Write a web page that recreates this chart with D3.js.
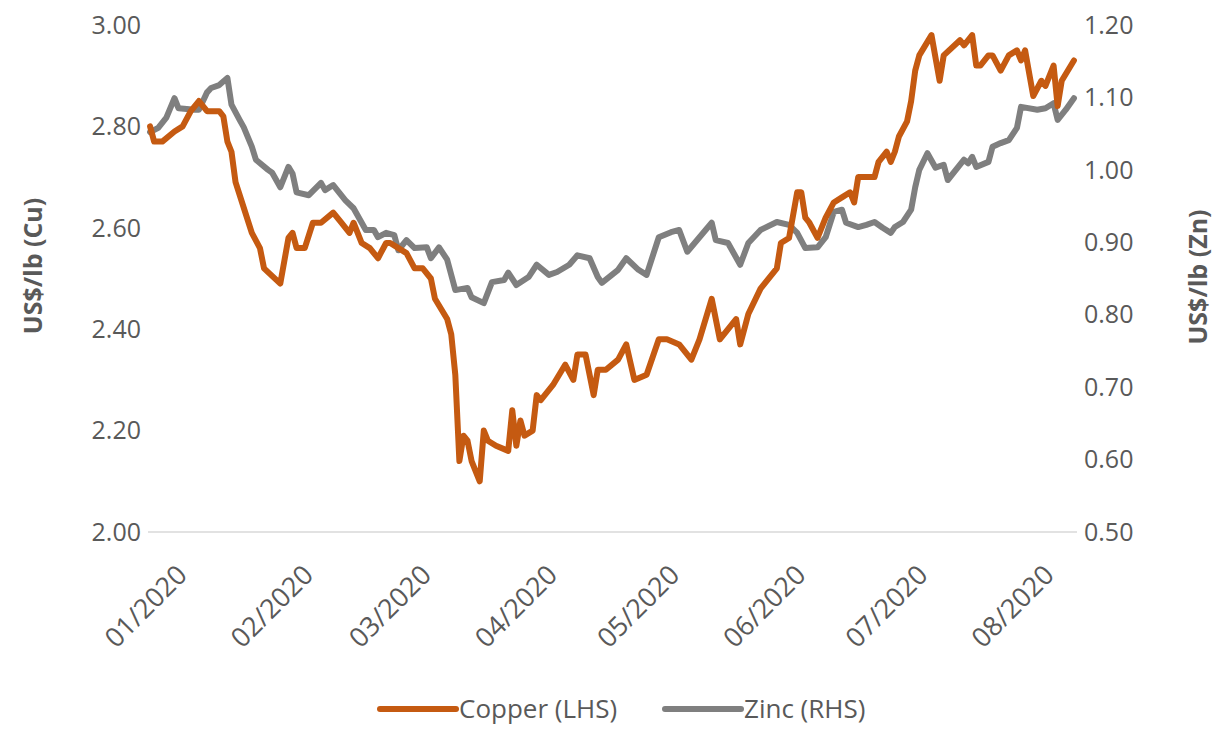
<!DOCTYPE html>
<html>
<head>
    <meta charset="utf-8" />
    <title>Copper and Zinc 2020</title>
    <style>
        body { margin: 0; background: #fff; }
        svg text { font-family: "Open Sans", "Noto Sans", sans-serif; fill: #595959; }
    </style>
    <script src="https://d3js.org/d3.v7.min.js"></script>
</head>
<body>
<svg id="chart"></svg>
<script>

// copper, US$/lb (left axis)
let copperDates = ["2020-01-02","2020-01-03","2020-01-05","2020-01-08","2020-01-10","2020-01-12","2020-01-14","2020-01-16","2020-01-19","2020-01-20",
    "2020-01-21","2020-01-22","2020-01-23","2020-01-25","2020-01-27","2020-01-29","2020-01-30","2020-02-03","2020-02-05","2020-02-06",
    "2020-02-07","2020-02-09","2020-02-11","2020-02-13","2020-02-16","2020-02-18","2020-02-20","2020-02-21","2020-02-23","2020-02-25",
    "2020-02-27","2020-02-29","2020-03-01","2020-03-05","2020-03-07","2020-03-09","2020-03-11","2020-03-12","2020-03-15","2020-03-16",
    "2020-03-17","2020-03-18","2020-03-19","2020-03-20","2020-03-21","2020-03-23","2020-03-24","2020-03-25","2020-03-27","2020-03-30",
    "2020-03-31","2020-04-01","2020-04-02","2020-04-03","2020-04-05","2020-04-06","2020-04-07","2020-04-10","2020-04-13","2020-04-15",
    "2020-04-16","2020-04-18","2020-04-20","2020-04-21","2020-04-23","2020-04-26","2020-04-28","2020-04-30","2020-05-03","2020-05-06",
    "2020-05-08","2020-05-11","2020-05-14","2020-05-16","2020-05-19","2020-05-21","2020-05-25","2020-05-26","2020-05-28","2020-05-31",
    "2020-06-04","2020-06-05","2020-06-07","2020-06-09","2020-06-10","2020-06-11","2020-06-12","2020-06-14","2020-06-16","2020-06-18",
    "2020-06-20","2020-06-22","2020-06-23","2020-06-24","2020-06-26","2020-06-28","2020-06-29","2020-07-01","2020-07-02","2020-07-03",
    "2020-07-04","2020-07-06","2020-07-07","2020-07-08","2020-07-09","2020-07-12","2020-07-14","2020-07-15","2020-07-19","2020-07-20",
    "2020-07-22","2020-07-23","2020-07-24","2020-07-26","2020-07-27","2020-07-29","2020-07-31","2020-08-02","2020-08-03","2020-08-04",
    "2020-08-06","2020-08-08","2020-08-09","2020-08-11","2020-08-12","2020-08-13","2020-08-16"];
let copperValues = [2.80,2.77,2.77,2.79,2.80,2.83,2.85,2.83,2.83,2.82,
    2.77,2.75,2.69,2.64,2.59,2.56,2.52,2.49,2.58,2.59,
    2.56,2.56,2.61,2.61,2.63,2.61,2.59,2.61,2.57,2.56,
    2.54,2.57,2.57,2.55,2.52,2.52,2.50,2.46,2.42,2.39,
    2.31,2.14,2.19,2.18,2.14,2.10,2.20,2.18,2.17,2.16,
    2.24,2.17,2.22,2.19,2.20,2.27,2.26,2.29,2.33,2.30,
    2.35,2.35,2.27,2.32,2.32,2.34,2.37,2.30,2.31,2.38,
    2.38,2.37,2.34,2.38,2.46,2.38,2.42,2.37,2.43,2.48,
    2.52,2.57,2.58,2.67,2.67,2.62,2.61,2.58,2.62,2.65,
    2.66,2.67,2.65,2.70,2.70,2.70,2.73,2.75,2.73,2.75,
    2.78,2.81,2.85,2.91,2.94,2.98,2.89,2.94,2.97,2.96,
    2.98,2.92,2.92,2.94,2.94,2.91,2.94,2.95,2.93,2.95,
    2.86,2.89,2.88,2.92,2.84,2.89,2.93];

// zinc, US$/lb (right axis)
let zincDates = ["2020-01-02","2020-01-04","2020-01-06","2020-01-08","2020-01-09","2020-01-13","2020-01-14","2020-01-16","2020-01-17","2020-01-19",
    "2020-01-21","2020-01-22","2020-01-24","2020-01-25","2020-01-27","2020-01-28","2020-01-31","2020-02-01","2020-02-03","2020-02-05",
    "2020-02-06","2020-02-07","2020-02-10","2020-02-13","2020-02-14","2020-02-16","2020-02-19","2020-02-21","2020-02-24","2020-02-26",
    "2020-02-27","2020-02-29","2020-03-02","2020-03-03","2020-03-05","2020-03-07","2020-03-10","2020-03-11","2020-03-13","2020-03-15",
    "2020-03-17","2020-03-20","2020-03-21","2020-03-24","2020-03-26","2020-03-29","2020-03-30","2020-04-01","2020-04-04","2020-04-06",
    "2020-04-09","2020-04-11","2020-04-14","2020-04-16","2020-04-19","2020-04-21","2020-04-22","2020-04-26","2020-04-28","2020-05-01",
    "2020-05-03","2020-05-06","2020-05-09","2020-05-11","2020-05-13","2020-05-16","2020-05-19","2020-05-20","2020-05-23","2020-05-26",
    "2020-05-28","2020-05-31","2020-06-04","2020-06-07","2020-06-09","2020-06-11","2020-06-14","2020-06-16","2020-06-18","2020-06-20",
    "2020-06-21","2020-06-24","2020-06-26","2020-06-28","2020-06-30","2020-07-02","2020-07-03","2020-07-05","2020-07-07","2020-07-08",
    "2020-07-09","2020-07-11","2020-07-13","2020-07-15","2020-07-16","2020-07-20","2020-07-21","2020-07-22","2020-07-23","2020-07-26",
    "2020-07-27","2020-07-29","2020-07-31","2020-08-02","2020-08-03","2020-08-07","2020-08-09","2020-08-11","2020-08-12","2020-08-14",
    "2020-08-16"];
let zincValues = [1.052,1.058,1.072,1.099,1.085,1.083,1.083,1.107,1.113,1.117,
    1.127,1.090,1.069,1.059,1.032,1.014,1.000,0.996,0.976,1.004,
    0.995,0.969,0.965,0.982,0.972,0.979,0.958,0.947,0.917,0.917,
    0.907,0.913,0.910,0.889,0.903,0.892,0.893,0.878,0.893,0.876,
    0.834,0.837,0.824,0.816,0.845,0.848,0.858,0.841,0.852,0.869,
    0.855,0.859,0.869,0.882,0.878,0.852,0.844,0.862,0.878,0.862,
    0.855,0.907,0.914,0.917,0.887,0.907,0.927,0.903,0.899,0.869,
    0.899,0.917,0.928,0.924,0.913,0.892,0.893,0.907,0.942,0.945,
    0.927,0.921,0.924,0.928,0.920,0.913,0.921,0.928,0.945,0.976,
    1.000,1.023,1.003,1.007,0.986,1.014,1.009,1.018,1.004,1.011,
    1.032,1.037,1.041,1.058,1.087,1.083,1.085,1.092,1.069,1.083,
    1.099];

let leftTicks = [2.00, 2.20, 2.40, 2.60, 2.80, 3.00];
let rightTicks = [0.50, 0.60, 0.70, 0.80, 0.90, 1.00, 1.10, 1.20];
let monthTicks = ["2020-01-01","2020-02-01","2020-03-01","2020-04-01","2020-05-01","2020-06-01","2020-07-01","2020-08-01"];

let seriesNames = ["Copper (LHS)", "Zinc (RHS)"];
let seriesColors = ["#C55A11", "#7F7F7F"];

/* layout */

let W = 1220, H = 729;
let parse = d3.timeParse("%Y-%m-%d");

let svg = d3.select("#chart")
    .attr("width", W)
    .attr("height", H);

let x = d3.scaleTime()
    .domain([parse("2020-01-01"), parse("2020-08-17")])
    .range([146, 1078]);

let yL = d3.scaleLinear().domain([2, 3]).range([532, 25]);
let yR = d3.scaleLinear().domain([0.5, 1.2]).range([532, 25]);

// bottom axis line
svg.append("line")
    .attr("x1", 148).attr("x2", 1077)
    .attr("y1", yL(2)).attr("y2", yL(2))
    .style("stroke", "#d9d9d9")
    .style("stroke-width", 1.5);

// left tick labels
svg.append("g")
    .selectAll("text")
    .data(leftTicks)
    .enter()
    .append("text")
    .attr("x", 141)
    .attr("y", d => yL(d))
    .attr("dy", "0.35em")
    .attr("text-anchor", "end")
    .style("font-size", "25px")
    .text(d => d.toFixed(2));

// right tick labels
svg.append("g")
    .selectAll("text")
    .data(rightTicks)
    .enter()
    .append("text")
    .attr("x", 1084)
    .attr("y", d => yR(d))
    .attr("dy", "0.35em")
    .attr("text-anchor", "start")
    .style("font-size", "25px")
    .text(d => d.toFixed(2));

// month labels, rotated
svg.append("g")
    .selectAll("text")
    .data(monthTicks)
    .enter()
    .append("text")
    .attr("transform", d => "translate(" + (x(parse(d)) + 36) + ",570) rotate(-45)")
    .attr("dy", "0.35em")
    .attr("text-anchor", "end")
    .style("font-size", "27px")
    .text(d => d3.timeFormat("%m/%Y")(parse(d)));

// axis titles
svg.append("text")
    .attr("transform", "translate(33,266) rotate(-90)")
    .attr("dy", "0.35em")
    .attr("text-anchor", "middle")
    .style("font-size", "25px")
    .style("font-weight", "bold")
    .text("US$/lb (Cu)");

svg.append("text")
    .attr("transform", "translate(1198,277) rotate(-90)")
    .attr("dy", "0.35em")
    .attr("text-anchor", "middle")
    .style("font-size", "25px")
    .style("font-weight", "bold")
    .text("US$/lb (Zn)");

// lines
let copper = copperDates.map((d, i) => ({ date: parse(d), value: copperValues[i] }));
let zinc = zincDates.map((d, i) => ({ date: parse(d), value: zincValues[i] }));

let lineL = d3.line().x(d => x(d.date)).y(d => yL(d.value));
let lineR = d3.line().x(d => x(d.date)).y(d => yR(d.value));

svg.append("path")
    .datum(zinc)
    .attr("d", lineR)
    .style("fill", "none")
    .style("stroke", seriesColors[1])
    .style("stroke-width", 6)
    .style("stroke-linejoin", "round")
    .style("stroke-linecap", "round");

svg.append("path")
    .datum(copper)
    .attr("d", lineL)
    .style("fill", "none")
    .style("stroke", seriesColors[0])
    .style("stroke-width", 6)
    .style("stroke-linejoin", "round")
    .style("stroke-linecap", "round");

// legend
let legendX = [380, 665];
let legend = svg.append("g")
    .selectAll("g")
    .data(seriesNames)
    .enter()
    .append("g")
    .attr("transform", (d, i) => "translate(" + legendX[i] + ",709)");

legend.append("line")
    .attr("x1", 0).attr("x2", 76)
    .style("stroke", (d, i) => seriesColors[i])
    .style("stroke-width", 6)
    .style("stroke-linecap", "round");

legend.append("text")
    .attr("x", 79)
    .attr("dy", "0.35em")
    .style("font-size", "26px")
    .text(d => d);

</script>
</body>
</html>
